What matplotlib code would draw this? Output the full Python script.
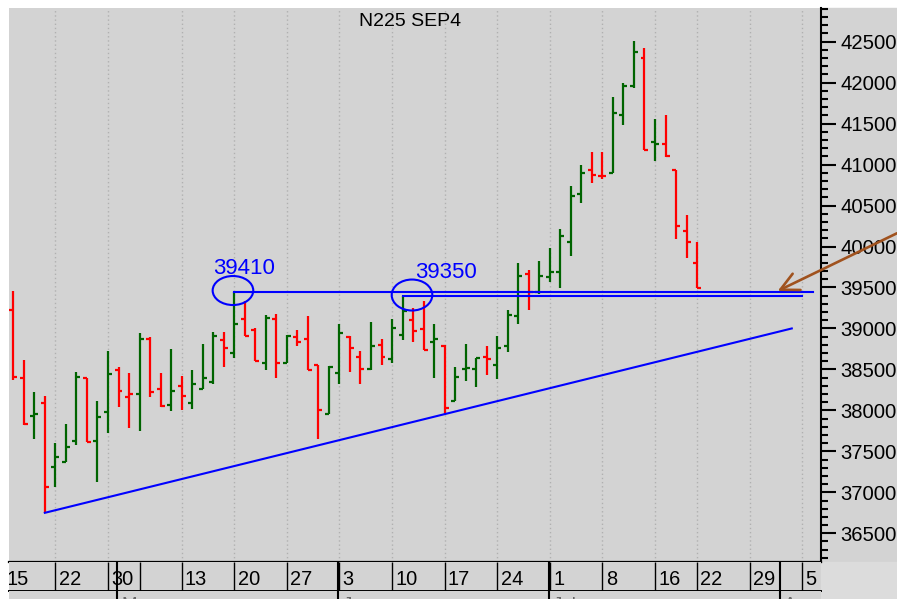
import matplotlib
matplotlib.use('Agg')
import matplotlib.pyplot as plt
from matplotlib.patches import Ellipse, Rectangle
from matplotlib.transforms import blended_transform_factory
import numpy as np

plt.rcParams['font.family'] = ['Liberation Sans', 'DejaVu Sans']

title = "N225 SEP4"

# daily OHLC (trading-day index 0 = Apr 16 2024)
opens = [39220, 38400, 37930, 38090, 37310, 37370, 37630, 38400, 37630, 37980,
         38490, 38160, 38200, 38870, 38260, 38070, 38300, 38090, 38260, 38350,
         38860, 38700, 39110, 38980, 38580, 39110, 38580, 38890, 38870, 38550,
         37960, 38460, 38900, 38650, 38500, 38800, 38630, 38920, 39100, 38990,
         38830, 38790, 38110, 38500, 38500, 38650, 38560, 38780, 39150, 39670,
         39450, 39630, 39690, 40060, 40640, 40930, 40860, 40900, 41610, 41960,
         42300, 41270, 41250, 40930, 40190, 39800]
highs = [39460, 38620, 38230, 38180, 37600, 37830, 38470, 38400, 38120, 38730,
         38530, 38460, 38940, 38890, 38460, 38750, 38420, 38490, 38810, 38960,
         38960, 39450, 39330, 39000, 39160, 39180, 38920, 38980, 39150, 38550,
         38540, 39060, 38910, 38720, 39080, 38870, 39110, 39390, 39250, 39330,
         39050, 38800, 38530, 38810, 38640, 38790, 38910, 39220, 39800, 39710,
         39820, 39980, 40210, 40740, 41000, 41150, 41150, 41820, 41990, 42510,
         42420, 41560, 41600, 40930, 40390, 40060]
lows = [38370, 37820, 37650, 36750, 37070, 37370, 37580, 37610, 37130, 37730,
        38040, 37780, 37750, 38160, 38040, 37990, 38000, 38020, 38260, 38320,
        38530, 38640, 38910, 38600, 38490, 38400, 38580, 38780, 38490, 37650,
        37960, 38320, 38470, 38320, 38490, 38560, 38580, 38860, 38840, 38740,
        38400, 37960, 38110, 38360, 38280, 38430, 38380, 38710, 39060, 39230,
        39420, 39570, 39490, 39880, 40530, 40780, 40830, 40900, 41480, 41930,
        41180, 41040, 41090, 40090, 39860, 39490]
closes = [38410, 37830, 37960, 37070, 37430, 37550, 38410, 37610, 37920, 38450,
          38240, 38200, 38870, 38220, 38050, 38240, 38170, 38320, 38390, 38910,
          38760, 39060, 38910, 38600, 39130, 38580, 38910, 38840, 38490, 38000,
          38530, 38950, 38760, 38510, 38780, 38650, 39010, 39210, 38970, 38740,
          38870, 38030, 38410, 38520, 38640, 38630, 38760, 39160, 39640, 39440,
          39640, 39690, 40130, 40620, 40900, 40870, 40860, 41630, 41960, 42370,
          41180, 41250, 41100, 40250, 40060, 39490]

week_pos = [-1, 4, 9, 12, 16, 21, 26, 31, 36, 41, 46, 51, 56, 61, 65, 70, 75]
week_labels = ["15", "22", "30", "", "13", "20", "27", "3", "10", "17", "24",
               "1", "8", "16", "22", "29", "5"]
month_pos = [9.9, 30.9, 50.9, 72.9]
month_labels = ["May", "Jun", "Jul", "Aug"]

# annotation levels
res1 = (21, 76, 39450)       # start idx, end idx, price
res2 = (37, 75, 39390)
trend = ([3, 74], [36750, 39000])
arrow_from = (84, 40162)
arrow_to = (72.66, 39457)
level_texts = [("39410", 19.0, 39665), ("39350", 38.2, 39616)]
circles = [(20.88, 39463, 3.86, 354), (37.9, 39408, 3.86, 378)]

W, H = 897, 599
fig = plt.figure(figsize=(W / 100, H / 100), dpi=100, facecolor='white')

BG = '#d3d3d3'
x_left, x_right = 9, 821
y_top, y_axbot, y_datebot = 8, 562.3, 590.7

def fx(px):
    return px / W

def fy(py):
    return 1 - py / H

# background for label area
fig.patches.append(Rectangle((fx(x_right), fy(y_axbot)), fx(W - x_right), (y_axbot - y_top) / H,
                             transform=fig.transFigure, color=BG, zorder=-5))
fig.patches.append(Rectangle((fx(x_right), 0), fx(W - x_right), (H - y_axbot) / H,
                             transform=fig.transFigure, color='#dcdcdc', zorder=-5))

ax = fig.add_axes([fx(x_left), fy(y_axbot), fx(x_right - x_left), (y_axbot - y_top) / H])
ax.set_facecolor(BG)

xlim = ((x_left - 13.3) / 10.52, (x_right - 13.3) / 10.52)
ax.set_xlim(*xlim)
ax.set_ylim(36146, 42911)

# grid
grid_pos = [p for p, l in zip(week_pos, week_labels) if l]
ax.vlines(grid_pos, 36146, 42911, colors='#b0b0b0', linestyles=(0, (1, 2)), lw=1, zorder=0)

x = np.arange(len(opens))
o = np.array(opens); h = np.array(highs); l = np.array(lows); c = np.array(closes)
prev = np.concatenate([[o[0]], c[:-1]])
up = c >= prev
up[0] = c[0] >= o[0]
cols = np.where(up, '#006400', '#ff0000')
tick = 0.38
ax.vlines(x, l, h, colors=cols, lw=1.6, zorder=3)
ax.hlines(o, x - tick, x, colors=cols, lw=1.6, zorder=3)
ax.hlines(c, x, x + tick, colors=cols, lw=1.6, zorder=3)

blue = '#0000ff'
ax.plot([res1[0], res1[1]], [res1[2], res1[2]], color=blue, lw=1.5, zorder=4)
ax.plot([res2[0], res2[1]], [res2[2], res2[2]], color=blue, lw=1.5, zorder=4)
ax.plot(trend[0], trend[1], color=blue, lw=1.5, zorder=4)
for cx, cy, w, hh in circles:
    ax.add_patch(Ellipse((cx, cy), w, hh, fill=False, edgecolor=blue, lw=1.5, zorder=4))
for t, tx, ty in level_texts:
    ax.text(tx, ty, t, color=blue, fontsize=16, va='baseline', ha='left', zorder=5)

ax.annotate('', xy=arrow_to, xytext=arrow_from,
            arrowprops=dict(arrowstyle='->,head_length=1.3,head_width=0.65',
                            color='#a0521e', lw=1.9, shrinkA=0, shrinkB=0),
            annotation_clip=False, zorder=6)

# axes styling
for s in ['top', 'left']:
    ax.spines[s].set_visible(False)
ax.spines['right'].set_linewidth(1.5)
ax.spines['bottom'].set_linewidth(1.6)
ax.set_xticks([])
ax.yaxis.tick_right()
ax.set_yticks(np.arange(36500, 42501, 500))
ax.set_yticks(np.arange(36200, 42901, 100), minor=True)
ax.yaxis.set_major_formatter(matplotlib.ticker.FuncFormatter(lambda v, p: f"{int(v)}"))
ax.tick_params(axis='y', which='major', direction='out', length=11, width=1.5, labelsize=14.6, pad=3)
ax.tick_params(axis='y', which='minor', direction='out', length=4.7, width=1.5)

fig.text(410 / W, fy(26), title, ha='center', va='baseline', fontsize=14)

# date row
axd = fig.add_axes([fx(x_left), fy(y_datebot), fx(x_right - x_left), (y_datebot - y_axbot) / H])
axd.set_facecolor(BG)
axd.set_xlim(*xlim)
axd.set_ylim(0, 1)
for s in ['top', 'left', 'right']:
    axd.spines[s].set_visible(False)
axd.spines['bottom'].set_linewidth(1.4)
axd.set_xticks([]); axd.set_yticks([])
axd.vlines(week_pos, 0, 1, colors='black', lw=1.0)
axd.vlines(month_pos, 0, 1, colors='black', lw=1.5)
for p, lab in zip(week_pos, week_labels):
    axd.text(p + 0.32, 0.2, lab, ha='left', va='baseline', fontsize=14.4, clip_on=True)

# month row
axm = fig.add_axes([fx(x_left), -0.05, fx(x_right - x_left), fy(y_datebot) + 0.05])
axm.set_facecolor(BG)
axm.set_xlim(*xlim)
axm.set_ylim(0, 1)
for s in axm.spines.values():
    s.set_visible(False)
axm.set_xticks([]); axm.set_yticks([])
axm.vlines(month_pos, 0, 1, colors='black', lw=1.5)
mtrans = blended_transform_factory(axm.transData, fig.transFigure)
for p, lab in zip(month_pos, month_labels):
    axm.text(p + 0.4, fy(596.5), lab, ha='left', va='top', fontsize=13.4,
             color='#666666', transform=mtrans)

fig.savefig('out.png', dpi=100, facecolor='white')
